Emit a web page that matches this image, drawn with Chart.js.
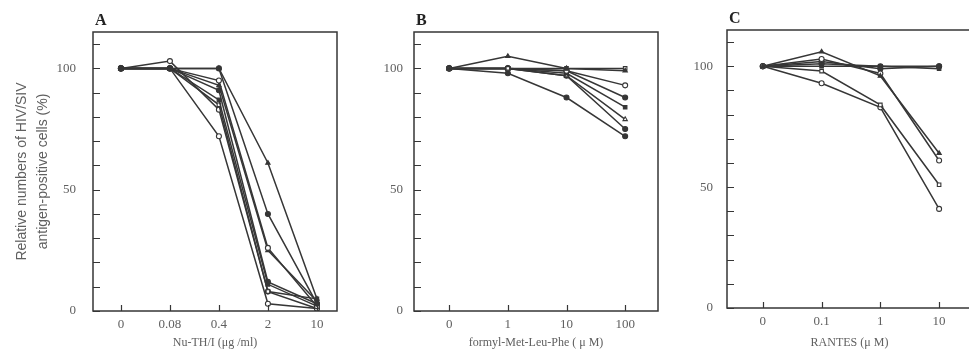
<!DOCTYPE html>
<html>
<head>
<meta charset="utf-8">
<script src="https://cdn.jsdelivr.net/npm/chart.js@4.4.1/dist/chart.umd.min.js"></script>
<style>
  html, body { margin: 0; padding: 0; background: #fff; width: 969px; height: 350px; overflow: hidden; }
  canvas { position: absolute; top: 0; }
</style>
</head>
<body>
<canvas id="chartA" width="345" height="350" style="left:0"></canvas>
<canvas id="chartB" width="300" height="350" style="left:370px"></canvas>
<canvas id="chartC" width="300" height="350" style="left:680px"></canvas>
<script>
/* ---- data ---- */
var CATS_A = ['0', '0.08', '0.4', '2', '10'];
var CATS_B = ['0', '1', '10', '100'];
var CATS_C = ['0', '0.1', '1', '10'];

var Y_TICKS  = [0, 10, 20, 30, 40, 50, 60, 70, 80, 90, 100, 110];
var Y_LABELS = [0, 50, 100];

// Panel A: Nu-TH/I
var SERIES_A = [
  [100, 100, 100, 61, 5],
  [100, 100, 100, 40, 3],
  [100, 100, 95, 26, 2],
  [100, 100, 93, 25, 4],
  [100, 100, 91, 12, 3],
  [100, 100, 87, 11, 2],
  [100, 100, 85, 8, 5],
  [100, 103, 83, 8, 1],
  [100, 100, 72, 3, 1]
];

// Panel B: formyl-Met-Leu-Phe
var SERIES_B = [
  [100, 105, 100, 99],
  [100, 100, 100, 100],
  [100, 100, 99, 93],
  [100, 100, 99, 88],
  [100, 100, 98, 84],
  [100, 100, 97, 79],
  [100, 100, 97, 75],
  [100, 98, 88, 72]
];

// Panel C: RANTES
var SERIES_C = [
  [100, 106, 96, 64],
  [100, 103, 97, 61],
  [100, 101, 100, 100],
  [100, 100, 100, 99],
  [100, 102, 99, 100],
  [100, 98, 84, 51],
  [100, 93, 83, 41]
];

/* ---- marker styles ---- */
var MARK_A = ['triangle', 'circle', 'circle', 'triangle', 'circle', 'rect', 'rect', 'circle', 'circle'];
var FILL_A = [true, true, false, true, true, true, false, false, false];
var MARK_B = ['triangle', 'rect', 'circle', 'circle', 'rect', 'triangle', 'circle', 'circle'];
var FILL_B = [true, false, false, true, true, false, true, true];
var MARK_C = ['triangle', 'circle', 'circle', 'rect', 'circle', 'rect', 'circle'];
var FILL_C = [true, false, true, true, true, false, false];

var INK = '#363636';
var TEXT = '#606060';

// frame, inward tick marks and the panel letter
var panelDecor = {
  id: 'panelDecor',
  afterDraw: function (chart, args, o) {
    var ctx = chart.ctx, a = chart.chartArea;
    var x = chart.scales.x, y = chart.scales.y;
    ctx.save();
    ctx.strokeStyle = INK;
    ctx.lineWidth = 1.5;
    ctx.strokeRect(a.left, a.top, a.right - a.left, a.bottom - a.top);
    ctx.lineWidth = 1.2;
    ctx.beginPath();
    Y_TICKS.forEach(function (v) {
      var py = Math.round(y.getPixelForValue(v)) + 0.5;
      ctx.moveTo(a.left, py);
      ctx.lineTo(a.left + 7, py);
    });
    o.cats.forEach(function (c, i) {
      var px = Math.round(x.getPixelForValue(i)) + 0.5;
      ctx.moveTo(px, a.bottom);
      ctx.lineTo(px, a.bottom - 6);
    });
    ctx.stroke();
    ctx.fillStyle = '#222';
    ctx.font = 'bold 16px "Liberation Serif", serif';
    ctx.textBaseline = 'bottom';
    ctx.fillText(o.letter, a.left + 2, a.top - 3);
    ctx.restore();
  }
};

function makePanel(id, letter, cats, series, marks, fills, xTitle, p) {
  var datasets = series.map(function (vals, i) {
    return {
      data: vals.map(function (v, j) { return { x: j, y: v }; }),
      borderColor: INK,
      borderWidth: 1.5,
      pointStyle: marks[i],
      pointRadius: 2.5,
      pointBorderWidth: 1.1,
      pointBorderColor: INK,
      pointBackgroundColor: fills[i] ? INK : '#fff',
      fill: false,
      tension: 0
    };
  });

  new Chart(document.getElementById(id), {
    type: 'line',
    data: { datasets: datasets },
    plugins: [panelDecor],
    options: {
      responsive: false,
      animation: false,
      layout: { padding: { top: p.top, right: p.right, left: 0, bottom: 0 } },
      scales: {
        x: {
          type: 'linear',
          min: p.xMin,
          max: p.xMax,
          grid: { display: false, drawTicks: false },
          border: { display: false },
          afterBuildTicks: function (s) {
            s.ticks = cats.map(function (c, i) { return { value: i }; });
          },
          afterFit: function (s) { s.height = p.xHeight; },
          ticks: {
            padding: 6,
            maxRotation: 0,
            color: TEXT,
            font: { family: '"Liberation Serif", serif', size: 13 },
            callback: function (v) { return cats[v]; }
          },
          title: {
            display: true,
            text: xTitle,
            color: TEXT,
            padding: { top: 0, bottom: 0 },
            font: { family: '"Liberation Serif", serif', size: 12 }
          }
        },
        y: {
          min: 0,
          max: 115,
          grid: { display: false, drawTicks: false },
          border: { display: false },
          afterBuildTicks: function (s) {
            s.ticks = Y_TICKS.map(function (v) { return { value: v }; });
          },
          afterFit: function (s) { s.width = p.yWidth; },
          ticks: {
            padding: p.labelPad,
            color: TEXT,
            font: { family: '"Liberation Serif", serif', size: 13 },
            callback: function (v) { return Y_LABELS.indexOf(v) >= 0 ? String(v) : ''; }
          },
          title: {
            display: !!p.yTitle,
            text: p.yTitle || '',
            color: TEXT,
            padding: { top: 12, bottom: 0 },
            font: { family: '"Liberation Sans", Arial, sans-serif', size: 14, lineHeight: 1.5 }
          }
        }
      },
      plugins: {
        legend: { display: false },
        tooltip: { enabled: false },
        panelDecor: { letter: letter, cats: cats }
      }
    }
  });
}

makePanel('chartA', 'A', CATS_A, SERIES_A, MARK_A, FILL_A, 'Nu-TH/I (\u03bcg /ml)', {
  top: 32, right: 8, xHeight: 39, yWidth: 93, labelPad: 17, xMin: -0.57, xMax: 4.41,
  yTitle: ['Relative numbers of HIV/SIV', 'antigen-positive cells (%)']
});
makePanel('chartB', 'B', CATS_B, SERIES_B, MARK_B, FILL_B, 'formyl-Met-Leu-Phe ( \u03bc M)', {
  top: 32, right: 12, xHeight: 39, yWidth: 44, labelPad: 11, xMin: -0.6, xMax: 3.56
});
makePanel('chartC', 'C', CATS_C, SERIES_C, MARK_C, FILL_C, 'RANTES (\u03bc M)', {
  top: 30, right: 8, xHeight: 42, yWidth: 47, labelPad: 14, xMin: -0.61, xMax: 3.56
});
</script>
</body>
</html>
